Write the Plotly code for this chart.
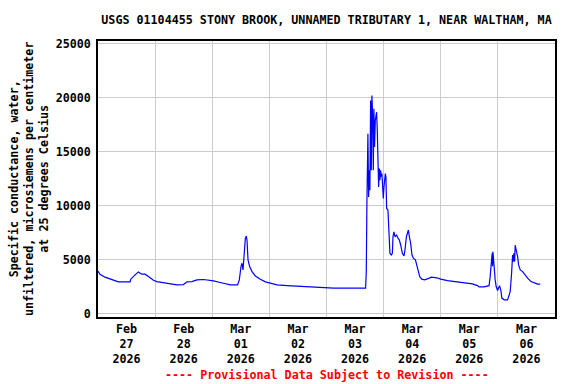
import plotly.graph_objects as go

times = [
    # Feb 27 - Mar 03 baseline and small events
    "2026-02-27 00:00", "2026-02-27 00:50", "2026-02-27 02:57", "2026-02-27 05:03",
    "2026-02-27 07:10", "2026-02-27 08:33", "2026-02-27 13:28", "2026-02-27 13:46",
    "2026-02-27 15:35", "2026-02-27 16:58", "2026-02-27 18:24", "2026-02-27 19:47",
    "2026-02-27 21:11", "2026-02-27 23:17", "2026-02-28 00:43", "2026-02-28 06:18",
    "2026-02-28 09:08", "2026-02-28 11:54", "2026-02-28 13:21", "2026-02-28 15:27",
    "2026-02-28 17:33", "2026-02-28 20:20", "2026-03-01 00:33", "2026-03-01 03:22",
    "2026-03-01 07:35", "2026-03-01 10:39", "2026-03-01 11:22", "2026-03-01 12:05",
    "2026-03-01 12:30", "2026-03-01 12:56", "2026-03-01 13:28", "2026-03-01 13:54",
    "2026-03-01 14:19", "2026-03-01 14:36", "2026-03-01 15:02", "2026-03-01 15:42",
    "2026-03-01 16:43", "2026-03-01 18:06", "2026-03-01 20:12", "2026-03-01 22:18",
    "2026-03-02 00:25", "2026-03-02 03:14", "2026-03-02 07:27", "2026-03-02 15:52",
    "2026-03-02 22:52", "2026-03-03 03:04", "2026-03-03 16:25",
    # Mar 03 - Mar 05 large event
    "2026-03-03 16:43", "2026-03-03 16:59", "2026-03-03 17:24", "2026-03-03 17:41",
    "2026-03-03 17:58", "2026-03-03 18:14", "2026-03-03 18:32", "2026-03-03 18:49",
    "2026-03-03 19:05", "2026-03-03 19:22", "2026-03-03 19:40", "2026-03-03 19:55",
    "2026-03-03 20:12", "2026-03-03 20:30", "2026-03-03 20:46", "2026-03-03 21:03",
    "2026-03-03 21:20", "2026-03-03 21:36", "2026-03-03 21:54", "2026-03-03 22:12",
    "2026-03-03 22:26", "2026-03-03 22:44", "2026-03-03 23:01", "2026-03-03 23:17",
    "2026-03-03 23:35", "2026-03-03 23:52", "2026-03-04 00:08", "2026-03-04 00:25",
    "2026-03-04 00:43", "2026-03-04 00:58", "2026-03-04 01:16", "2026-03-04 01:49",
    "2026-03-04 02:06", "2026-03-04 02:32", "2026-03-04 02:39", "2026-03-04 03:14",
    "2026-03-04 03:40", "2026-03-04 03:56", "2026-03-04 04:20", "2026-03-04 04:46",
    "2026-03-04 05:28", "2026-03-04 06:02", "2026-03-04 06:36", "2026-03-04 07:10",
    "2026-03-04 07:52", "2026-03-04 08:33", "2026-03-04 08:58", "2026-03-04 09:34",
    "2026-03-04 09:59", "2026-03-04 10:24", "2026-03-04 10:49", "2026-03-04 11:22",
    "2026-03-04 11:55", "2026-03-04 12:30", "2026-03-04 13:21", "2026-03-04 13:54",
    "2026-03-04 14:26", "2026-03-04 15:10", "2026-03-04 16:00", "2026-03-04 17:16",
    "2026-03-04 18:40", "2026-03-04 20:05", "2026-03-04 22:18", "2026-03-05 00:00",
    "2026-03-05 02:48", "2026-03-05 05:36", "2026-03-05 08:24",
    # Mar 05 - Mar 06 events
    "2026-03-05 11:12", "2026-03-05 13:21", "2026-03-05 15:27", "2026-03-05 16:06",
    "2026-03-05 18:12", "2026-03-05 18:57", "2026-03-05 20:18", "2026-03-05 20:46",
    "2026-03-05 21:21", "2026-03-05 21:36", "2026-03-05 21:46", "2026-03-05 21:54",
    "2026-03-05 22:12", "2026-03-05 22:26", "2026-03-05 22:52", "2026-03-05 23:17",
    "2026-03-05 23:52", "2026-03-06 00:18", "2026-03-06 00:42", "2026-03-06 01:16",
    "2026-03-06 01:41", "2026-03-06 02:39", "2026-03-06 04:04", "2026-03-06 04:46",
    "2026-03-06 05:11", "2026-03-06 05:46", "2026-03-06 06:11", "2026-03-06 06:26",
    "2026-03-06 06:44", "2026-03-06 07:02", "2026-03-06 07:17", "2026-03-06 07:42",
    "2026-03-06 08:18", "2026-03-06 08:42", "2026-03-06 09:24", "2026-03-06 10:24",
    "2026-03-06 11:22", "2026-03-06 12:30", "2026-03-06 13:54", "2026-03-06 15:18",
    "2026-03-06 16:42", "2026-03-06 17:48",
]

conductance = [
    3950, 3660, 3385, 3230,
    3045, 2950, 2950, 3200,
    3600, 3875, 3660, 3660,
    3440, 3100, 2980, 2800,
    2675, 2700, 2950, 2980,
    3135, 3170, 3045, 2890,
    2675, 2675, 3135, 4365,
    4675, 4060, 6365, 6980,
    7195, 6800, 4980, 4365,
    3900, 3500, 3200, 2950,
    2830, 2675, 2610, 2520,
    2460, 2370, 2370,
    3900, 10360, 16670, 10820,
    13280, 11440, 19740, 13280,
    20200, 18510, 13280, 18970,
    15430, 17900, 18200, 18660,
    16970, 13900, 11740, 13440,
    12360, 13280, 12700, 12980,
    11280, 10670, 11700, 12670,
    12980, 12670, 9750, 9600,
    7750, 6830, 5600, 5440,
    5600, 7130, 7590, 7130,
    7280, 7000, 6830, 6365,
    5600, 5350, 5900, 7130,
    7590, 7750, 7130, 6520,
    5440, 5140, 5000, 4520,
    3900, 3440, 3200, 3135,
    3250, 3385, 3330, 3200,
    3075, 2980, 2950,
    2830, 2770, 2610, 2490,
    2490, 2550, 2600, 3440,
    4830, 5600, 4400, 5750,
    5000, 4215, 3135, 2520,
    2150, 2400, 2600, 2150,
    1450, 1290, 1290, 1750,
    2060, 3750, 5440, 4830,
    5600, 4830, 6365, 5900,
    5290, 4520, 4060, 3900,
    3600, 3300, 2980, 2830,
    2740, 2740,
]

title_text = "USGS 01104455 STONY BROOK, UNNAMED TRIBUTARY 1, NEAR WALTHAM, MA"
ylabel_text = ("Specific conductance, water,<br>"
               "unfiltered, microsiemens per centimeter<br>"
               "at 25 degrees Celsius")
footer_text = "---- Provisional Data Subject to Revision ----"

FONT = "DejaVu Sans Mono"
FS = 11.7

fig = go.Figure()
fig.add_trace(go.Scatter(
    x=times, y=conductance, mode="lines",
    line=dict(color="#0000ff", width=1.2),
    showlegend=False, hoverinfo="skip",
))

fig.update_layout(
    template="none",
    width=576, height=384,
    margin=dict(l=98, r=21, t=41, b=67, pad=0, autoexpand=False),
    paper_bgcolor="white", plot_bgcolor="white",
    font=dict(family=FONT, size=FS, color="black", weight="bold"),
    title=dict(text=title_text, x=0.5, xref="paper", xanchor="center",
               y=1 - 20 / 384, yref="container", yanchor="middle",
               font=dict(family=FONT, size=FS, color="black", weight="bold")),
    showlegend=False,
)

fig.update_xaxes(
    type="date",
    range=["2026-02-27 00:00", "2026-03-07 00:00"],
    tick0="2026-02-27", dtick=86400000,
    tickformat="%b<br>%d<br>%Y",
    ticklabelmode="period",
    ticks="",
    showgrid=True, gridcolor="#cccccc", gridwidth=1,
    showline=True, mirror=True, linecolor="black", linewidth=1.5,
    zeroline=False,
    automargin=False,
    tickfont=dict(family=FONT, size=FS, color="black", weight="bold"),
)

fig.update_yaxes(
    range=[-300, 25250],
    tick0=0, dtick=5000, tickformat="d",
    ticks="",
    showgrid=True, gridcolor="#cccccc", gridwidth=1,
    showline=True, mirror=True, linecolor="black", linewidth=1.5,
    zeroline=False,
    automargin=False,
    ticklabelstandoff=3,
    tickfont=dict(family=FONT, size=FS, color="black", weight="bold"),
)

fig.add_annotation(
    text=ylabel_text, xref="paper", yref="paper",
    x=(29 - 98) / 457, y=0.5, xanchor="center", yanchor="middle",
    textangle=-90, showarrow=False,
    font=dict(family=FONT, size=FS, color="black", weight="bold"),
)

fig.add_annotation(
    text=footer_text, xref="paper", yref="paper",
    x=0.5, y=(317 - 375) / 276, xanchor="center", yanchor="middle",
    showarrow=False,
    font=dict(family=FONT, size=FS, color="#ff0000", weight="bold"),
)

fig.write_html(
    "out.html",
    config={"displayModeBar": False},
    post_script="document.body.style.margin='0';document.body.style.padding='0';",
)
